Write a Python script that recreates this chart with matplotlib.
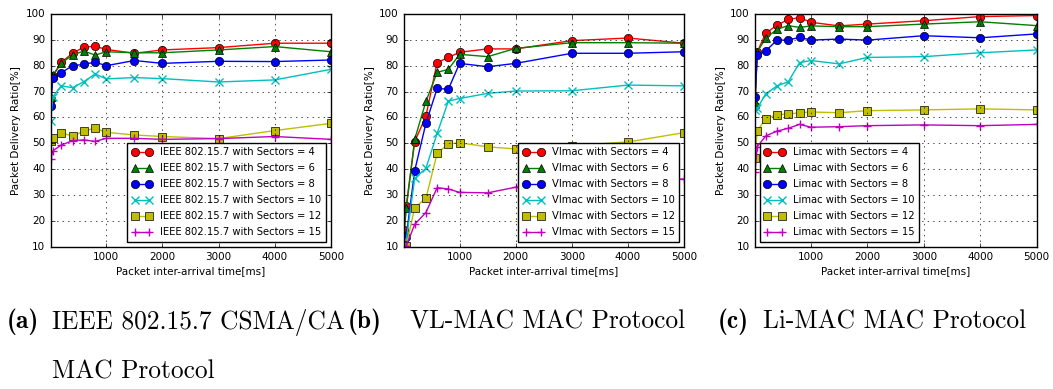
import numpy as np
import matplotlib
matplotlib.use("Agg")
import matplotlib.pyplot as plt

# inter-arrival times [ms]
x_ms = [10, 50, 200, 400, 600, 800, 1000, 1500, 2000, 3000, 4000, 5000]
sectors = [4, 6, 8, 10, 12, 15]

# IEEE 802.15.7
ieee_4 = [67, 76, 81.3, 84.8, 87.2, 87.5, 86.3, 84.8, 86.1, 87.0, 88.7, 88.7]
ieee_6 = [68, 76.4, 81.0, 84.1, 85.7, 84.1, 85.4, 85.0, 85.0, 86.1, 87.4, 85.4]
ieee_8 = [64.4, 75.4, 77.3, 80.0, 80.5, 81.4, 80.0, 82.0, 80.9, 81.7, 81.6, 82.2]
ieee_10 = [58.7, 68.0, 72.2, 71.5, 73.8, 76.8, 74.9, 75.4, 75.0, 73.7, 74.5, 78.6]
ieee_12 = [51.0, 52.2, 54.0, 52.8, 54.6, 55.9, 54.2, 53.2, 52.6, 51.8, 54.9, 57.7]
ieee_15 = [43.8, 47.1, 49.3, 51.0, 51.3, 50.7, 51.9, 51.9, 51.5, 51.8, 52.6, 51.5]

# VL-MAC
vl_4 = [16.5, 25.9, 50.6, 60.5, 81.2, 83.2, 85.2, 86.5, 86.5, 89.7, 90.7, 88.7]
vl_6 = [15.0, 24.8, 51.5, 66.2, 77.4, 78.6, 84.4, 83.5, 86.7, 88.9, 88.9, 88.7]
vl_8 = [12.6, 13.9, 39.4, 57.7, 71.2, 70.9, 80.9, 79.6, 80.9, 84.8, 84.8, 85.4]
vl_10 = [11.5, 12.5, 36.4, 40.3, 53.8, 66.3, 67.3, 69.3, 70.2, 70.3, 72.5, 72.2]
vl_12 = [10.5, 10.4, 25.1, 28.7, 46.1, 49.7, 50.2, 48.6, 47.8, 49.1, 50.5, 54.1]
vl_15 = [10.2, 10.3, 18.6, 23.2, 32.8, 32.3, 31.0, 30.8, 33.0, 34.0, 35.0, 36.2]

# Li-MAC
li_4 = [64.4, 85.4, 92.5, 95.7, 97.9, 98.6, 96.8, 95.4, 96.1, 97.4, 99.0, 99.4]
li_6 = [66.0, 85.4, 90.6, 94.1, 95.5, 94.8, 95.4, 95.1, 95.1, 96.1, 97.0, 95.5]
li_8 = [68.0, 84.1, 85.7, 89.9, 89.9, 91.0, 89.9, 90.3, 89.9, 91.6, 90.8, 92.3]
li_10 = [62.9, 63.5, 69.1, 72.2, 73.8, 81.2, 82.0, 80.7, 83.2, 83.5, 85.0, 86.1]
li_12 = [44.2, 54.9, 59.4, 61.1, 61.3, 61.8, 62.1, 61.8, 62.6, 62.9, 63.3, 62.9]
li_15 = [39.0, 48.7, 52.8, 54.7, 55.8, 57.3, 56.2, 56.4, 56.8, 57.1, 56.8, 57.3]

protocols = ["IEEE 802.15.7", "Vlmac", "Limac"]
captions = ["IEEE 802.15.7 CSMA/CA", "VL-MAC MAC Protocol", "Li-MAC MAC Protocol"]
panel_tags = ["(a)", "(b)", "(c)"]
all_series = [
    [ieee_4, ieee_6, ieee_8, ieee_10, ieee_12, ieee_15],
    [vl_4, vl_6, vl_8, vl_10, vl_12, vl_15],
    [li_4, li_6, li_8, li_10, li_12, li_15],
]

colors = ["r", "g", "b", "c", "y", "m"]
markers = ["o", "^", "o", "x", "s", "+"]
legend_locs = ["lower right", "lower right", "lower left"]
axes_left = [0.0481, 0.3837, 0.717]
axes_width = [0.2662, 0.2659, 0.2675]

plt.style.use("classic")
plt.rcParams["font.family"] = "DejaVu Sans"
plt.rcParams["font.size"] = 7.5
plt.rcParams["figure.facecolor"] = "white"
plt.rcParams["savefig.facecolor"] = "white"

fig = plt.figure(figsize=(10.53, 3.89), dpi=100)

for i in range(3):
    ax = fig.add_axes([axes_left[i], 0.366, axes_width[i], 0.598])
    for s, col, mk, data in zip(sectors, colors, markers, all_series[i]):
        filled = mk in ("o", "^", "s")
        ax.plot(x_ms, data, color=col, marker=mk, linewidth=1.0,
                markersize=6,
                markeredgecolor="k" if filled else col,
                markeredgewidth=0.5 if filled else 1.0,
                label=f"{protocols[i]} with Sectors = {s}")
    ax.set_xlim(10, 5000)
    ax.set_ylim(10, 100)
    ax.set_xticks([1000, 2000, 3000, 4000, 5000])
    ax.set_yticks(np.arange(10, 101, 10))
    ax.tick_params(labelsize=7.5, length=3)
    ax.grid(True, linestyle=":", color="k", linewidth=0.5)
    ax.set_xlabel("Packet inter-arrival time[ms]", fontsize=7.5, labelpad=3)
    ax.set_ylabel("Packet Delivery Ratio[%]", fontsize=7.5, labelpad=3)
    leg = ax.legend(loc=legend_locs[i], fontsize=7.2, numpoints=2,
                    frameon=True, fancybox=False, borderaxespad=0.47,
                    borderpad=0.47, handlelength=2.05, handletextpad=0.8,
                    labelspacing=0.6)
    leg.get_frame().set_linewidth(1.0)

# captions below panels
cap_y = 0.172
cap_size = 18.3
fig.text(0.0066, cap_y, panel_tags[0], family="cmb10", fontsize=cap_size, va="center")
fig.text(0.0494, cap_y, captions[0], family="cmr10", fontsize=cap_size, va="center")
fig.text(0.0494, 0.044, "MAC Protocol", family="cmr10", fontsize=cap_size, va="center")
fig.text(0.3305, cap_y, panel_tags[1], family="cmb10", fontsize=cap_size, va="center")
fig.text(0.389, cap_y, captions[1], family="cmr10", fontsize=cap_size, va="center")
fig.text(0.682, cap_y, panel_tags[2], family="cmb10", fontsize=cap_size, va="center")
fig.text(0.7246, cap_y, captions[2], family="cmr10", fontsize=cap_size, va="center")

fig.savefig("out.png", dpi=100)
